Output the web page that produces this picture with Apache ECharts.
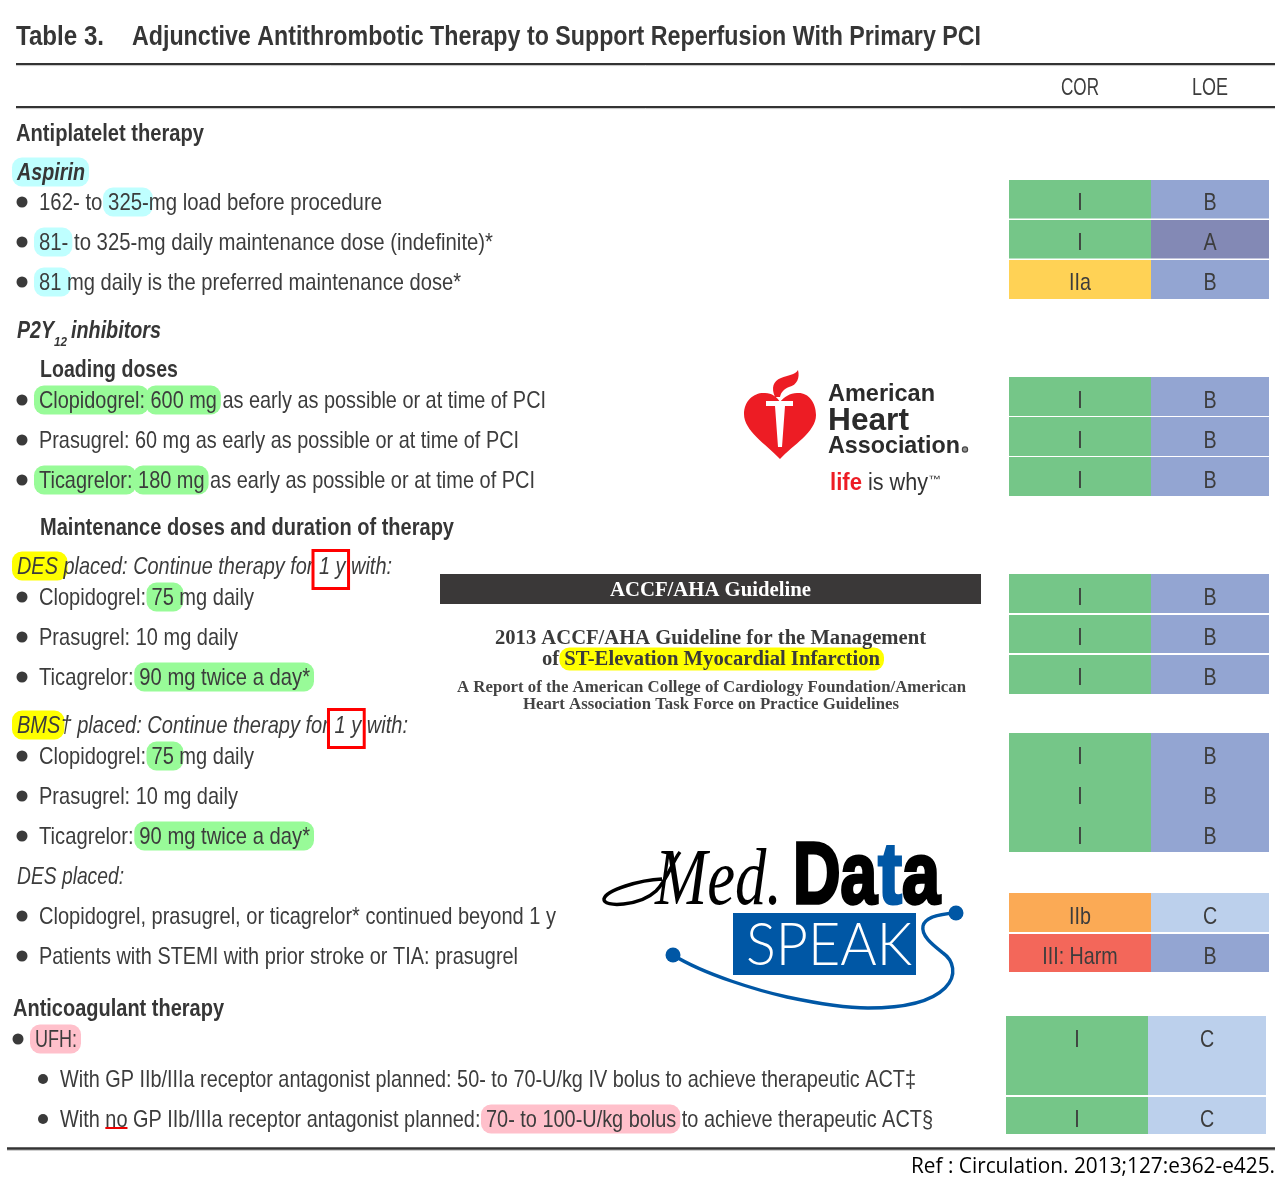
<!doctype html>
<html>
<head>
<meta charset="UTF-8">
<title>Adjunctive Antithrombotic Therapy</title>
<script src="https://cdn.jsdelivr.net/npm/echarts@6/dist/echarts.min.js"></script>
<style>
html,body{margin:0;padding:0;background:#fff}
#main{width:1285px;height:1184px}
</style>
</head>
<body>
<div id="main"></div>
<script>
// text of the table, one entry per drawn line
var rowTexts = [
  'Table 3.', 'Adjunctive Antithrombotic Therapy to Support Reperfusion With Primary PCI',
  'COR', 'LOE',
  'Antiplatelet therapy', 'Aspirin',
  '162- to 325-mg load before procedure',
  '81- to 325-mg daily maintenance dose (indefinite)*',
  '81 mg daily is the preferred maintenance dose*',
  'P2Y', '12', 'inhibitors', 'Loading doses',
  'Clopidogrel: 600 mg as early as possible or at time of PCI',
  'Prasugrel: 60 mg as early as possible or at time of PCI',
  'Ticagrelor: 180 mg as early as possible or at time of PCI',
  'Maintenance doses and duration of therapy',
  'DES placed: Continue therapy for 1 y with:',
  'Clopidogrel: 75 mg daily', 'Prasugrel: 10 mg daily', 'Ticagrelor: 90 mg twice a day*',
  'BMS† placed: Continue therapy for 1 y with:',
  'Clopidogrel: 75 mg daily', 'Prasugrel: 10 mg daily', 'Ticagrelor: 90 mg twice a day*',
  'DES placed:',
  'Clopidogrel, prasugrel, or ticagrelor* continued beyond 1 y',
  'Patients with STEMI with prior stroke or TIA: prasugrel',
  'Anticoagulant therapy', 'UFH:',
  'With GP IIb/IIIa receptor antagonist planned: 50- to 70-U/kg IV bolus to achieve therapeutic ACT‡',
  'With no GP IIb/IIIa receptor antagonist planned: 70- to 100-U/kg bolus to achieve therapeutic ACT§',
  'Ref : Circulation. 2013;127:e362-e425.',
  'ACCF/AHA Guideline', '2013 ACCF/AHA Guideline for the Management',
  'of ST-Elevation Myocardial Infarction',
  'A Report of the American College of Cardiology Foundation/American',
  'Heart Association Task Force on Practice Guidelines',
  'American', 'Heart', 'Association', 'life', 'is why', '™',
  'Med.', 'Da', 't', 'a', 'SPEAK'
];

// class of recommendation / level of evidence, one pair per treatment row
var corValues = ['I','I','IIa','I','I','I','I','I','I','I','I','I','IIb','III: Harm','I','I'];
var loeValues = ['B','A','B','B','B','B','B','B','B','B','B','B','C','B','C','C'];

// layout: where each line sits on the page axes
var rowX   = [16,132,1061,1192,16,17,39,39,39,17,54,71,40,39,39,39,40,17,39,39,39,17,39,39,39,17,39,39,13,35,60,60,911,610,495,542,457,523,828,828,828,830,868,928,655,793,878,902,746];
var rowEnd = [104,981,1099,1228,204,85,382,493,461,54,67,161,178,546,519,535,454,392,254,238,310,408,254,238,310,124,556,518,224,77,916,933,1275,811,926,880,966,899,935,909,960,862,928,941,782,877,902,940,912];
var rowY   = [37,37,87,87,133,172,202,242,282,330,341,330,369,400,440,480,527,566,597,637,677,725,756,796,836,876,916,956,1008,1039,1079,1119,1166,590,638,659,687,704,393,420,445,483,483,479,882,878,878,878,945];
var rowStyle = ['title','title','body','body','bold','boldItalic','body','body','body','boldItalic','sub','boldItalic','bold','body','body','body','bold','italic','body','body','body','italic','body','body','body','italic','body','body','bold','body','body','body','ref','serifHead','serifMid','serifMid','serifSmall','serifSmall','logoA','logoB','logoA','logoLife','logoWhy','logoTm','script','data','dataBlue','data','speak'];
var bulletX = {6:22,7:22,8:22,13:22,14:22,15:22,18:22,19:22,20:22,22:22,23:22,24:22,26:22,27:22,29:18,30:43,31:43};

var cellTop    = [180,220,260,377,417,457,574,615,655,733,773,813,893,934,1016,1097];
var cellBottom = [218.6,258.6,299,416,456,496,613,653,694,773,813,852,932,972,1095,1134];
var cellLabelY = [202,242,282,400,440,480,597,637,677,756,796,836,916,956,1039,1119];
var cellShift  = [0,0,0,0,0,0,0,0,0,0,0,0,0,0,-3,-3];
var columnEdges = [1009,1151,1269];
var cellColors = {'I':'#75c688','IIa':'#ffd255','IIb':'#fbaa55','III: Harm':'#f3675a','A':'#8389b5','B':'#93a5d2','C':'#bcd0ec'};

// [row, substring, colour]
var highlights = [
  [5,'Aspirin','#bfffff'],[6,'325-','#bfffff'],[7,'81-','#bfffff'],[8,'81 ','#bfffff'],
  [13,'Clopidogrel:','#98fb98'],[13,'600 mg','#98fb98'],[15,'Ticagrelor:','#98fb98'],[15,'180 mg','#98fb98'],
  [17,'DES ','#ffff00'],[18,'75 ','#98fb98'],[20,'90 mg twice a day*','#98fb98'],
  [21,'BMS','#ffff00'],[22,'75 ','#98fb98'],[24,'90 mg twice a day*','#98fb98'],
  [29,'UFH:','#ffc0cb'],[31,'70- to 100-U/kg bolus','#ffc0cb'],[35,'ST-Elevation Myocardial Infarction','#ffff00']
];
var redBoxes = [[17,'1 y'],[21,'1 y']];
var redUnderlines = [[31,'no']];
var rules = [[16,1275,64,2.2],[16,1275,107,2.2],[7,1275,1148.5,2.6]];

var narrow = '"Liberation Sans",sans-serif';
var serif = '"Liberation Serif",serif';
var styles = {
  title:{font:'bold 27px '+narrow,fill:'#363636'},
  bold:{font:'bold 24px '+narrow,fill:'#363636'},
  boldItalic:{font:'italic bold 24px '+narrow,fill:'#363636'},
  sub:{font:'italic bold 13px '+narrow,fill:'#363636'},
  body:{font:'24px '+narrow,fill:'#3c3c3c'},
  italic:{font:'italic 24px '+narrow,fill:'#3c3c3c'},
  ref:{font:'22px "Open Sans",sans-serif',fill:'#000'},
  serifHead:{font:'bold 20px '+serif,fill:'#fff'},
  serifMid:{font:'bold 20px '+serif,fill:'#3a3a3a',hl:23},
  serifSmall:{font:'bold 16px '+serif,fill:'#444'},
  logoA:{font:'bold 24px "Liberation Sans",sans-serif',fill:'#2b2b2b'},
  logoB:{font:'bold 32px "Liberation Sans",sans-serif',fill:'#2b2b2b'},
  logoLife:{font:'bold 23px "Liberation Sans",sans-serif',fill:'#ed1c24'},
  logoWhy:{font:'23px "Liberation Sans",sans-serif',fill:'#333'},
  logoTm:{font:'9px "Liberation Sans",sans-serif',fill:'#333'},
  script:{font:'italic 80px '+serif,fill:'#000'},
  data:{font:'bold 88px '+narrow,fill:'#000',stroke:'#000',lw:3.5},
  dataBlue:{font:'bold 88px '+narrow,fill:'#0057a5',stroke:'#0057a5',lw:3},
  speak:{font:'300 60px Lato,sans-serif',fill:'#fff'}
};

var measure = document.createElement('canvas').getContext('2d');
function textWidth(font, t) { measure.font = font; return measure.measureText(t).width; }

function renderRow(params, api) {
  var i = api.value(2);
  var p = api.coord([api.value(0), api.value(1)]);
  var right = api.coord([rowEnd[i], 0])[0];
  var st = styles[rowStyle[i]], txt = rowTexts[i];
  var full = textWidth(st.font, txt);
  var sx = (right - p[0]) / full;
  var kids = [];
  function span(sub) {
    var at = txt.indexOf(sub);
    return [p[0] + textWidth(st.font, txt.slice(0, at)) * sx, p[0] + textWidth(st.font, txt.slice(0, at + sub.length)) * sx];
  }
  highlights.forEach(function (h) {
    if (h[0] !== i) return;
    var s = span(h[1]), hh = st.hl || 29;
    kids.push({type:'rect', shape:{x:s[0]-5, y:p[1]-hh/2, width:s[1]-s[0]+9, height:hh, r:10}, style:{fill:h[2]}});
  });
  redBoxes.forEach(function (b) {
    if (b[0] !== i) return;
    var s = span(b[1]);
    kids.push({type:'rect', z2:3, shape:{x:s[0]-6, y:p[1]-15.5, width:s[1]-s[0]+9, height:38}, style:{fill:'none', stroke:'#f00', lineWidth:3}});
  });
  redUnderlines.forEach(function (u) {
    if (u[0] !== i) return;
    var s = span(u[1]);
    kids.push({type:'line', shape:{x1:s[0], y1:p[1]+9, x2:s[1], y2:p[1]+9}, style:{stroke:'#e00', lineWidth:2}});
  });
  if (bulletX[i]) {
    kids.push({type:'circle', shape:{cx:api.coord([bulletX[i],0])[0], cy:p[1], r:i === 30 || i === 31 ? 5 : 5.5}, style:{fill:'#3a3a3a'}});
  }
  kids.push({type:'text', x:p[0], y:p[1] + 1, scaleX:sx, z2:2, style:{text:txt, x:0, y:0, font:st.font, fill:st.fill, stroke:st.stroke, lineWidth:st.lw || 0, align:'left', verticalAlign:'middle'}});
  return {type:'group', children:kids};
}

function renderCell(params, api) {
  var a = api.coord([api.value(0), api.value(2)]);
  var b = api.coord([api.value(1), api.value(3)]);
  var c = api.coord([(api.value(0) + api.value(1)) / 2, api.value(4)]);
  var label = cellData[params.dataIndex][5];
  return {type:'group', children:[
    {type:'rect', shape:{x:a[0], y:a[1], width:b[0]-a[0], height:b[1]-a[1]}, style:{fill:cellColors[label]}},
    {type:'text', x:c[0], y:c[1] + 1, scaleX:0.82, style:{text:label, x:0, y:0, font:'24px '+narrow, fill:'#3c3c3c', align:'center', verticalAlign:'middle'}}
  ]};
}

function renderRule(params, api) {
  var a = api.coord([api.value(0), api.value(2)]);
  var b = api.coord([api.value(1), api.value(2)]);
  var w = api.value(3);
  return {type:'group', children:[
    {type:'line', shape:{x1:a[0], y1:a[1] + w/2 + 0.5, x2:b[0], y2:b[1] + w/2 + 0.5}, style:{stroke:'#c4c4c4', lineWidth:1}},
    {type:'line', shape:{x1:a[0], y1:a[1], x2:b[0], y2:b[1]}, style:{stroke:'#333', lineWidth:w}}
  ]};
}

// logos and the dark banner behind the text
function renderLogos() {
  return {type:'group', children:[
    {type:'rect', shape:{x:440,y:574,width:541,height:30}, style:{fill:'#3a3838'}},
    {type:'path', shape:{pathData:'M780 459 C766 444 744 431 744 414 C744 400 755 392 765 393 C772 393 777 397 780 402 C784 397 790 393 797 393 C808 392 816 402 816 415 C816 432 793 445 780 459 Z'}, style:{fill:'#ed1c24'}},
    {type:'path', shape:{pathData:'M775 397 C771 388 773 381 781 378 C788 375 795 375 798 370 C800 378 797 385 789 387 C784 389 781 392 780 397 Z'}, style:{fill:'#ed1c24'}},
    {type:'path', z2:1, shape:{pathData:'M766 401 L793 401 L793 406 L785 406 L782 447 L778 447 L775 406 L766 406 Z'}, style:{fill:'#fff'}},
    {type:'circle', shape:{cx:965,cy:449.5,r:2.6}, style:{fill:'#999',stroke:'#444',lineWidth:1.2}},
    {type:'rect', shape:{x:733,y:913,width:183,height:62}, style:{fill:'#0057a5'}},
    {type:'path', shape:{pathData:'M673 955 C705 975 760 991 787 997 C820 1004 845 1008 868 1008 C900 1008 930 1003 945 988 C958 975 953 960 943 953 C933 945 921 936 923 926 C925 917 940 914 955 913'}, style:{fill:'none',stroke:'#0057a5',lineWidth:3.4}},
    {type:'circle', shape:{cx:673,cy:955,r:7.5}, style:{fill:'#0057a5'}},
    {type:'circle', shape:{cx:956,cy:913,r:7.5}, style:{fill:'#0057a5'}},
    {type:'path', shape:{pathData:'M662 879 C640 880 606 890 604 899 C603 908 640 906 656 891 C668 879 672 862 680 852'}, style:{fill:'none',stroke:'#000',lineWidth:3.5}}
  ]};
}

var cellData = [];
corValues.forEach(function (v, k) {
  cellData.push([columnEdges[0]+cellShift[k], columnEdges[1]+cellShift[k], cellTop[k], cellBottom[k], cellLabelY[k], v]);
  cellData.push([columnEdges[1]+cellShift[k], columnEdges[2]+cellShift[k], cellTop[k], cellBottom[k], cellLabelY[k], loeValues[k]]);
});

var myChart = echarts.init(document.getElementById('main'), null, {renderer:'canvas'});
myChart.setOption({
  animation:false,
  backgroundColor:'#fff',
  grid:{left:0, right:0, top:0, bottom:0},
  xAxis:{type:'value', min:0, max:1285, show:false},
  yAxis:{type:'value', min:0, max:1184, inverse:true, show:false},
  series:[
    {type:'custom', z:1, silent:true, clip:false, renderItem:renderLogos, data:[[0,0]]},
    {type:'custom', z:3, silent:true, clip:false, renderItem:renderRule, data:rules},
    {type:'custom', z:3, silent:true, clip:false, renderItem:renderCell, data:cellData.map(function (c) { return c.slice(0,5); })},
    {type:'custom', z:4, silent:true, clip:false, renderItem:renderRow, encode:{x:0,y:1},
     data:rowTexts.map(function (t, i) { return [rowX[i], rowY[i], i]; })}
  ]
});
window.onresize = myChart.resize;
</script>
</body>
</html>
